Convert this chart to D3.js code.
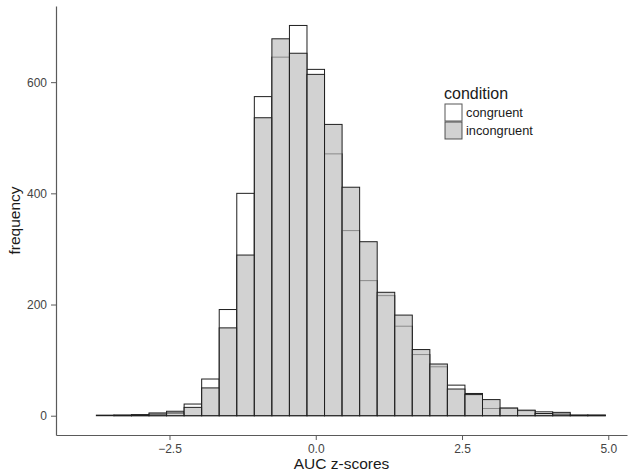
<!DOCTYPE html>
<html lang="en">
<head>
<meta charset="utf-8">
<title>AUC z-scores histogram</title>
<style>
  body { margin: 0; background: white; font-family: "Liberation Sans", Arial, Helvetica, sans-serif; }
  .tick text { font-size: 12px; fill: #444444; }
  .axis path, .axis line { stroke: #5a5a5a; }
</style>
</head>
<body>
<div id="chart"></div>
<script src="https://cdn.jsdelivr.net/npm/d3@7"></script>
<script>
// bin centres (binwidth 0.3)
var binCenters = [-3.6, -3.3, -3.0, -2.7, -2.4, -2.1, -1.8, -1.5, -1.2, -0.9, -0.6, -0.3, 0.0, 0.3, 0.6,
                  0.9, 1.2, 1.5, 1.8, 2.1, 2.4, 2.7, 3.0, 3.3, 3.6, 3.9, 4.2, 4.5, 4.8];
var congruent   = [1, 1, 2, 5, 8, 21, 66, 191, 400, 574, 645, 702, 623, 471, 333,
                   243, 216, 161, 110, 88, 55, 40, 13, 13, 9, 7, 6, 1, 1];
var incongruent = [0, 1, 1, 3, 5, 15, 50, 158, 289, 536, 678, 652, 614, 524, 411,
                   313, 222, 181, 119, 93, 48, 38, 29, 14, 10, 4, 3, 1, 1];
var conditions = ["congruent", "incongruent"];
var xTicks = [-2.5, 0, 2.5, 5];
var yTicks = [0, 200, 400, 600];
var binWidth = 0.3;

var width = 629, height = 473;
var margin = {top: 6, right: 2, bottom: 38, left: 56};
var innerW = width - margin.left - margin.right;
var innerH = height - margin.top - margin.bottom;

var svg = d3.select("#chart").append("svg")
    .attr("width", width)
    .attr("height", height);

var g = svg.append("g")
    .attr("transform", "translate(" + margin.left + "," + margin.top + ")");

var x = d3.scaleLinear().domain([-4.44, 5.32]).range([0, innerW]);
var y = d3.scaleLinear().domain([-34.7, 737]).range([innerH, 0]);

var fills = {congruent: "#ffffff", incongruent: "#bdbdbd"};
var opac = {congruent: 1, incongruent: 0.68};
var series = {congruent: congruent, incongruent: incongruent};

conditions.forEach(function(c) {
  g.append("g").selectAll("rect")
    .data(binCenters.map(function(b, i) { return {x: b, n: series[c][i]}; }))
    .enter().append("rect")
    .attr("x", function(d) { return x(d.x - binWidth / 2); })
    .attr("width", function(d) { return x(d.x + binWidth / 2) - x(d.x - binWidth / 2); })
    .attr("y", function(d) { return y(d.n); })
    .attr("height", function(d) { return y(0) - y(d.n); })
    .attr("fill", fills[c])
    .attr("fill-opacity", opac[c])
    .attr("stroke", "#1f1f1f")
    .attr("stroke-width", 1);
});

// axes
g.append("g")
  .attr("class", "axis")
  .attr("transform", "translate(0," + innerH + ")")
  .call(d3.axisBottom(x).tickValues(xTicks).tickFormat(d3.format(".1f")).tickSize(5).tickPadding(4).tickSizeOuter(0))
  .call(function(s) { s.select(".domain").attr("stroke-width", 1.2); });

g.append("g")
  .attr("class", "axis")
  .call(d3.axisLeft(y).tickValues(yTicks).tickSize(5).tickPadding(4).tickSizeOuter(0))
  .call(function(s) { s.select(".domain").attr("stroke-width", 1.2); });

// axis titles, centred on the panel
svg.append("text")
  .attr("x", margin.left + innerW / 2)
  .attr("y", 469)
  .attr("text-anchor", "middle")
  .attr("font-size", 15.5)
  .attr("fill", "#1a1a1a")
  .text("AUC z-scores");

svg.append("text")
  .attr("transform", "translate(20," + (margin.top + innerH / 2) + ") rotate(-90)")
  .attr("text-anchor", "middle")
  .attr("font-size", 15.5)
  .attr("fill", "#1a1a1a")
  .text("frequency");

// legend
var legend = svg.append("g").attr("transform", "translate(445,87)");
legend.append("text")
  .attr("x", -1)
  .attr("y", 11.5)
  .attr("font-size", 16)
  .attr("fill", "#1a1a1a")
  .text("condition");

conditions.forEach(function(c, i) {
  var row = legend.append("g").attr("transform", "translate(0," + (17 + i * 18) + ")");
  row.append("rect")
    .attr("width", 17)
    .attr("height", 17)
    .attr("fill", fills[c])
    .attr("fill-opacity", opac[c])
    .attr("stroke", "#1f1f1f")
    .attr("stroke-opacity", 0.75);
  row.append("text")
    .attr("x", 21)
    .attr("y", 13)
    .attr("font-size", 12.8)
    .attr("fill", "#1a1a1a")
    .text(c);
});
</script>
</body>
</html>
